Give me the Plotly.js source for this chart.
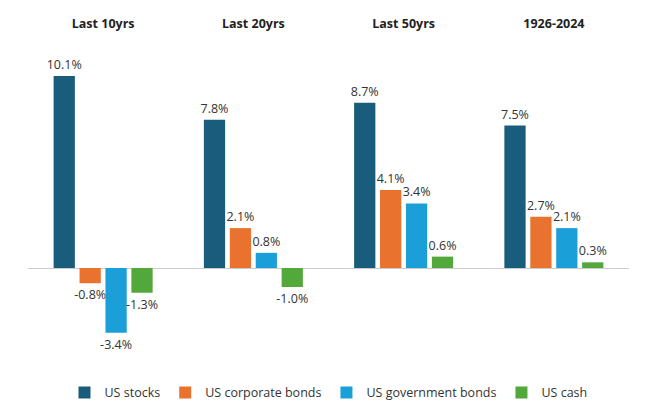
<!DOCTYPE html>
<html><head><meta charset="utf-8">
<script src="https://cdn.plot.ly/plotly-3.0.1.min.js"></script>
<style>html,body{margin:0;padding:0;background:#fff;}#c{width:645px;height:411px;}</style>
</head><body><div id="c"></div>
<script>
const periods = ["Last 10yrs", "Last 20yrs", "Last 50yrs", "1926-2024"];
const seriesNames = ["US stocks", "US corporate bonds", "US government bonds", "US cash"];
const usStocks = [10.1, 7.8, 8.7, 7.5];
const usCorporateBonds = [-0.8, 2.1, 4.1, 2.7];
const usGovernmentBonds = [-3.4, 0.8, 3.4, 2.1];
const usCash = [-1.3, -1.0, 0.6, 0.3];
const colors = ["#1a5c7c", "#e8722e", "#1a9fd8", "#52a83a"];

const allValues = [usStocks, usCorporateBonds, usGovernmentBonds, usCash];
const traces = allValues.map((vals, i) => ({
  type: "bar",
  name: seriesNames[i],
  x: periods,
  y: vals,
  marker: {color: colors[i]},
  text: vals.map(v => v.toFixed(1) + "%"),
  textposition: "outside",
  constraintext: "none",
  cliponaxis: false,
  textfont: {family: "Open Sans", size: 12.5, color: "#333"},
  hoverinfo: "none"
}));

const layout = {
  width: 645, height: 411,
  margin: {l: 28, r: 16, t: 40, b: 51},
  paper_bgcolor: "#fff", plot_bgcolor: "#fff",
  barmode: "group",
  bargap: 0.31,
  bargroupgap: 0.18,
  font: {family: "Open Sans", color: "#333"},
  xaxis: {
    side: "top",
    showline: false, showgrid: false, zeroline: false,
    ticks: "", ticklen: 0,
    ticklabelstandoff: 9,
    tickfont: {family: "Open Sans", size: 12.5, color: "#222"},
    tickvals: periods,
    ticktext: periods.map(p => "<b>" + p + "</b>")
  },
  yaxis: {
    range: [-4.84, 12.0],
    showgrid: false, showticklabels: false, showline: false,
    zeroline: true, zerolinecolor: "#cccccc", zerolinewidth: 1,
    ticks: ""
  },
  showlegend: true,
  legend: {
    orientation: "h", x: 0.5, xanchor: "center",
    yref: "container", y: 0.044, yanchor: "middle",
    font: {family: "Open Sans", size: 12.5, color: "#333"},
    itemwidth: 30, traceorder: "normal"
  }
};
Plotly.newPlot("c", traces, layout, {staticPlot: true});
</script></body></html>
